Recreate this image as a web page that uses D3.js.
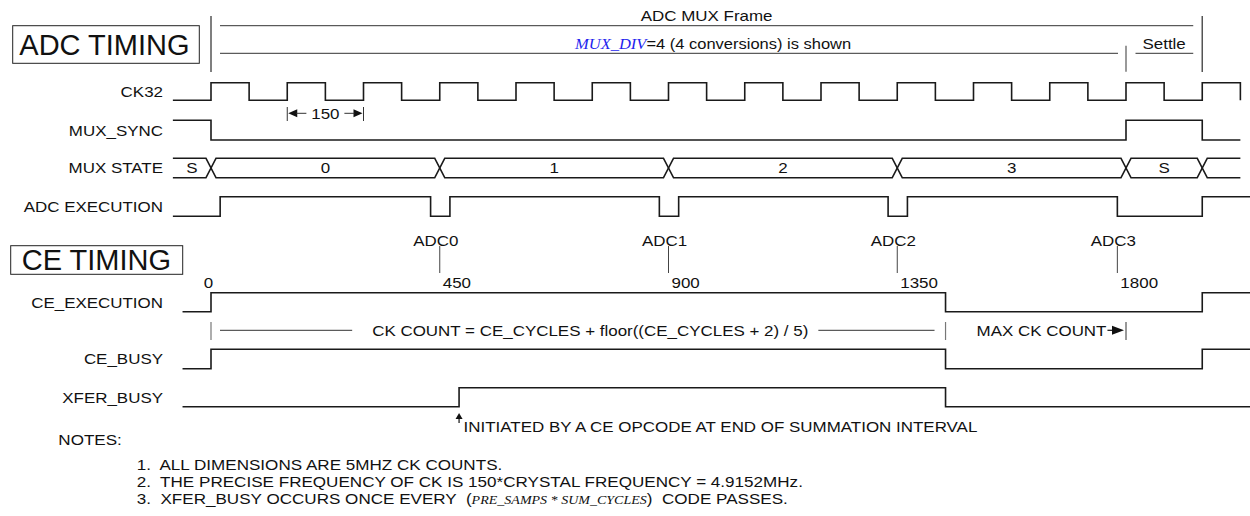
<!DOCTYPE html>
<html><head><meta charset="utf-8">
<script src="https://cdn.jsdelivr.net/npm/d3@7"></script>
<style>
html,body{margin:0;padding:0;background:#fff;}
svg{display:block;}
text{font-family:"Liberation Sans",Arial,Helvetica,sans-serif;fill:#111;white-space:pre;}
</style></head><body><svg id="c" width="1250" height="516"></svg>
<script>
// ---------------- data (times in 5MHz CK counts) ----------------
const signalNames = ["CK32","MUX_SYNC","MUX STATE","ADC EXECUTION","CE_EXECUTION","CE_BUSY","XFER_BUSY"];
const ck32Edges = [[-75,0],[0,1],[75,0],[150,1],[225,0],[300,1],[375,0],[450,1],[525,0],[600,1],[675,0],[750,1],[825,0],[900,1],[975,0],[1050,1],[1125,0],[1200,1],[1275,0],[1350,1],[1425,0],[1500,1],[1575,0],[1650,1],[1725,0],[1800,1],[1875,0],[1950,1],[2025,0]];
const ck32End = 2025;
const muxSyncEdges = [[-75,1],[0,0],[1800,1],[1950,0]];
const muxSyncEnd = 2025;
const muxStateBounds = [-75,0,450,900,1350,1800,1950,2025];
const muxStateLabels = ["S","0","1","2","3","S",""];
const adcExecEdges = [[-75,0],[18,1],[432,0],[470,1],[882,0],[920,1],[1332,0],[1370,1],[1783,0],[1950,1]];
const adcExecEnd = 2045;
const ceExecEdges = [[-56,0],[0,1],[1445,0],[1950,1]];
const ceBusyEdges = [[-56,0],[0,1],[1445,0],[1950,1]];
const xferBusyEdges = [[-56,0],[488,1],[1445,0]];
const ceEnd = 2045;
const adcMarkerNames = ["ADC0","ADC1","ADC2","ADC3"];
const adcMarkerTimes = [450,900,1350,1783];
const countLabels = ["0","450","900","1350","1800"];
const countTimes = [0,450,900,1350,1783];
const frameTimes = [0,1800,1950];          // frame start, settle start, frame end
const periodMark = [150,300];              // "150" dimension
const ceCountTimes = [0,1445,1800];        // CK COUNT start, end, MAX CK COUNT
const xferInitT = 488;
const notesText = [
  "1.  ALL DIMENSIONS ARE 5MHZ CK COUNTS.",
  "2.  THE PRECISE FREQUENCY OF CK IS 150*CRYSTAL FREQUENCY = 4.9152MHz.",
  "3.  XFER_BUSY OCCURS ONCE EVERY  ("
];

// ---------------- layout ----------------
const svg = d3.select("#c");
const x = d3.scaleLinear().domain([0,1800]).range([211,1126]);
const rows = {
  "CK32":[82.7,100.3], "MUX_SYNC":[120.3,140], "MUX STATE":[158.3,177.7],
  "ADC EXECUTION":[196.7,216.3], "CE_EXECUTION":[292.7,311.7],
  "CE_BUSY":[349.3,368.7], "XFER_BUSY":[387.7,406.7]
};
const LFS = 15, LSX = 1.13;
const WAVE = "#1a1a1a";
function T(parent, px, py, str, o={}) {
  const t = parent.append("text")
    .attr("transform", `translate(${px},${py}) scale(${o.sx||LSX},1)`)
    .attr("font-size", o.fs||LFS)
    .attr("text-anchor", o.anchor||"start");
  if (str != null) t.text(str);
  return t;
}
function ln(x1,y1,x2,y2,c="#333",w=1){
  svg.append("line").attr("x1",x1).attr("y1",y1).attr("x2",x2).attr("y2",y2)
    .attr("stroke",c).attr("stroke-width",w);
}
function tri(tipX, tipY, dir, len=10, half=4){
  let pts;
  if (dir==="left") pts=[[tipX,tipY],[tipX+len,tipY-half],[tipX+len,tipY+half]];
  else if (dir==="right") pts=[[tipX,tipY],[tipX-len,tipY-half],[tipX-len,tipY+half]];
  else pts=[[tipX,tipY],[tipX-half,tipY+len],[tipX+half,tipY+len]];
  svg.append("polygon").attr("points",pts.map(p=>p.join(",")).join(" ")).attr("fill","#111");
}
const line = d3.line();

// ---------------- signal labels ----------------
signalNames.forEach(n=>{
  const [hi,lo]=rows[n];
  T(svg, 163, (hi+lo)/2+5.4, n, {anchor:"end"});
});

// ---------------- waveforms ----------------
function wave(edges, end, row){
  const [hi,lo]=rows[row];
  const lv = l => l ? hi : lo;
  const pts=[[x(edges[0][0]), lv(edges[0][1])]];
  for (let i=1;i<edges.length;i++){
    pts.push([x(edges[i][0]), lv(edges[i-1][1])]);
    pts.push([x(edges[i][0]), lv(edges[i][1])]);
  }
  pts.push([x(end), lv(edges[edges.length-1][1])]);
  svg.append("path").attr("d", line(pts)).attr("fill","none")
    .attr("stroke",WAVE).attr("stroke-width",1.6).attr("stroke-linejoin","miter");
}
wave(ck32Edges, ck32End, "CK32");
wave(muxSyncEdges, muxSyncEnd, "MUX_SYNC");
wave(adcExecEdges, adcExecEnd, "ADC EXECUTION");
wave(ceExecEdges, ceEnd, "CE_EXECUTION");
wave(ceBusyEdges, ceEnd, "CE_BUSY");
wave(xferBusyEdges, ceEnd, "XFER_BUSY");

// MUX STATE bus
(function(){
  const [top,bot]=rows["MUX STATE"]; const h=5;
  [top,bot].forEach(startLv=>{
    let lv=startLv; const pts=[[x(muxStateBounds[0]), lv]];
    for (let i=1;i<muxStateBounds.length-1;i++){
      const c=x(muxStateBounds[i]);
      pts.push([c-h, lv]); lv = (lv===top?bot:top); pts.push([c+h, lv]);
    }
    pts.push([x(muxStateBounds[muxStateBounds.length-1]), lv]);
    svg.append("path").attr("d",line(pts)).attr("fill","none")
      .attr("stroke",WAVE).attr("stroke-width",1.5);
  });
  muxStateLabels.forEach((s,i)=>{
    if(!s) return;
    const cx=(x(muxStateBounds[i])+x(muxStateBounds[i+1]))/2;
    T(svg, cx, (top+bot)/2+5.4, s, {anchor:"middle"});
  });
})();

// ---------------- titles ----------------
svg.append("rect").attr("x",12.7).attr("y",25.7).attr("width",186.6).attr("height",37.6)
  .attr("fill","none").attr("stroke","#222").attr("stroke-width",1);
T(svg, 19.3, 54.6, "ADC TIMING", {fs:29, sx:1});
svg.append("rect").attr("x",10.7).attr("y",245.7).attr("width",172).attr("height",28.6)
  .attr("fill","none").attr("stroke","#222").attr("stroke-width",1);
T(svg, 21.7, 270.3, "CE TIMING", {fs:29, sx:1});

// ---------------- ADC MUX frame annotation ----------------
const f0=x(frameTimes[0]), fm=x(frameTimes[1]), f1=x(frameTimes[2]);
ln(f0,16,f0,72,"#555",1.5);
ln(f1,16,f1,72,"#555",1.5);
ln(fm,45.7,fm,71.7,"#555",1.2);
ln(f0+9,25.7,f1-9,25.7);
T(svg,(f0+f1)/2,20.6,"ADC MUX Frame",{anchor:"middle"});
ln(f0+9,53.3,fm-8,53.3);
const md=T(svg,575,48.8,null,{sx:1.1});
md.append("tspan").attr("font-family","'Liberation Serif','Times New Roman',serif")
  .attr("font-style","italic").attr("fill","#1f1fee").text("MUX_DIV");
md.append("tspan").text("=4 (4 conversions) is shown");
ln(fm+9.5,53.3,f1-9,53.3);
T(svg,(fm+f1)/2,48.8,"Settle",{anchor:"middle"});

// "150" period dimension
(function(){
  const a=x(periodMark[0]), b=x(periodMark[1]), y=113.3, cx=(a+b)/2;
  ln(a,107,a,121,"#333",1); ln(b,107,b,121,"#333",1);
  tri(a+1,y,"left",9,4); tri(b-1,y,"right",9,4);
  ln(a+9,y,cx-19,y,"#333",1); ln(cx+19,y,b-9,y,"#333",1);
  T(svg,cx,y+5.4,"150",{anchor:"middle"});
})();

// ---------------- ADC markers / counts ----------------
adcMarkerNames.forEach((n,i)=>{
  const mx=x(adcMarkerTimes[i]);
  T(svg, mx-4, 245.5, n, {anchor:"middle"});
  ln(mx,246,mx,273,"#444",1);
});
countLabels.forEach((s,i)=>{
  if(i===0){ T(svg, x(countTimes[i])-2.5, 288.3, s, {anchor:"middle"}); }
  else { T(svg, x(countTimes[i])+3, 288.3, s); }
});

// ---------------- CK COUNT annotation ----------------
(function(){
  const c0=x(ceCountTimes[0]), c1=x(ceCountTimes[1]), cm=x(ceCountTimes[2]), y=330.3;
  ln(c0,322,c0,340,"#777",1.2); ln(c1,322,c1,340,"#777",1.2);
  const cx=(c0+c1)/2+12;
  const t=T(svg,cx,y+5.6,"CK COUNT = CE_CYCLES + floor((CE_CYCLES + 2) / 5)",{anchor:"middle"});
  const w=t.node().getComputedTextLength()*LSX;
  ln(c0+9,y,cx-w/2-20,y); ln(cx+w/2+10,y,c1-11,y);
  const t2=T(svg,c1+31,y+5.6,"MAX CK COUNT");
  const w2=t2.node().getComputedTextLength()*LSX;
  ln(c1+31+w2+1,y,cm-12,y,"#111",1.2);
  tri(cm-2,y,"right",12,4.5);
  ln(cm,322,cm,340,"#333",1);
})();

// ---------------- XFER initiated note ----------------
(function(){
  const ax=x(xferInitT);
  tri(ax,413,"up",6,3.5);
  ln(ax,418,ax,423,"#111",1.2);
  T(svg, ax+4.5, 431.6, "INITIATED BY A CE OPCODE AT END OF SUMMATION INTERVAL");
})();

// ---------------- notes ----------------
const NFS=14, NSX=1.22;
T(svg,58.3,444.6,"NOTES:",{fs:NFS,sx:NSX});
notesText.forEach((s,i)=>{
  const t=T(svg,136.7,469.6+17*i,null,{fs:NFS,sx:NSX});
  t.append("tspan").text(s);
  if(i===2){
    t.append("tspan").attr("font-family","'Liberation Serif','Times New Roman',serif")
      .attr("font-style","italic").attr("font-size",11.5).text("PRE_SAMPS * SUM_CYCLES");
    t.append("tspan").text(")  CODE PASSES.");
  }
});
</script></body></html>
